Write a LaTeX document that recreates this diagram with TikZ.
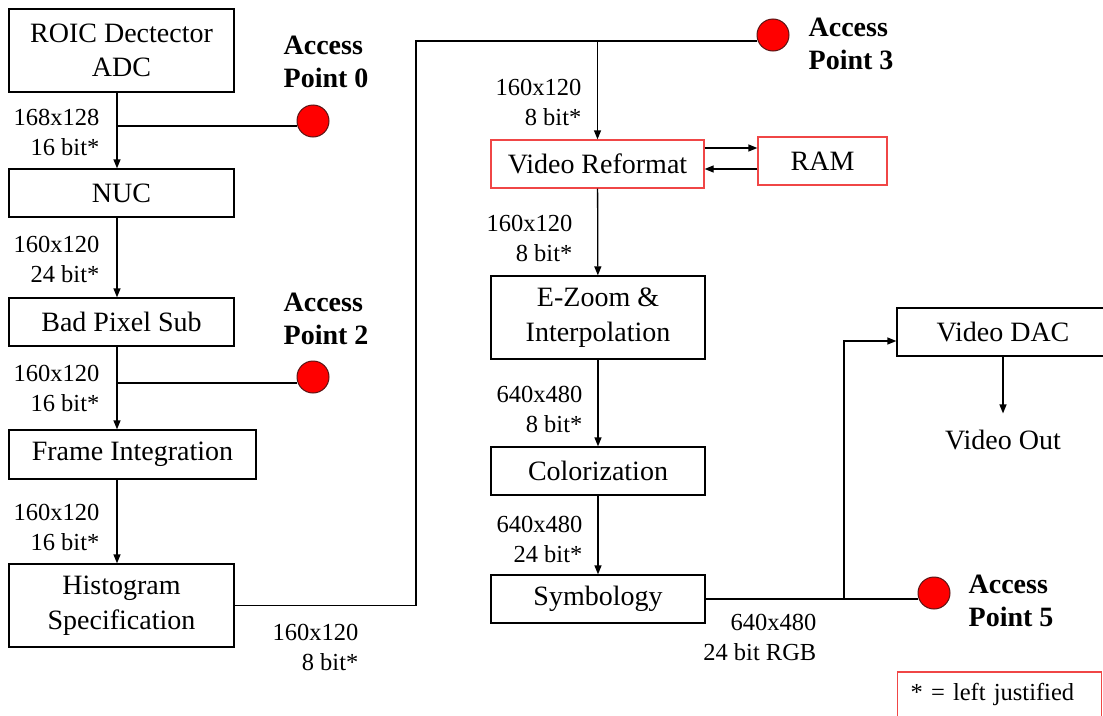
\documentclass[tikz,border=0pt]{standalone}
\usepackage{fontspec}
\setmainfont{Liberation Serif}
\usetikzlibrary{arrows.meta}

\definecolor{boxred}{RGB}{240,70,70}
\definecolor{apedge}{RGB}{90,20,20}

\newcommand{\boxfont}{\fontsize{28}{34.5}\selectfont}
\newcommand{\tagfont}{\fontsize{24.5}{30}\selectfont}
\newcommand{\apfont}{\fontsize{28}{33}\selectfont\bfseries}

\begin{document}
\begin{tikzpicture}[x=1pt, y=-1pt, line width=1.3pt,
  blk/.style={draw, inner sep=0pt, align=center, font=\boxfont},
  redblk/.style={blk, draw=boxred},
  tag/.style={anchor=east, align=right, inner sep=0pt, font=\tagfont},
  ap/.style={circle, draw=apedge, fill=red, line width=1pt, minimum size=32, inner sep=0pt},
  aptext/.style={anchor=west, align=left, inner sep=0pt, font=\apfont},
  arr/.style={-{Triangle[length=9pt, width=7pt]}}]
  \useasboundingbox (0, 0) rectangle (1103, 715);

  % Sensor side
  \node[blk, minimum width=225, minimum height=83] (roic) at (121.5, 50.5) {ROIC Dectector\\ADC};
  \node[blk, minimum width=225, minimum height=48] (nuc) at (121.5, 193) {NUC};
  \node[blk, minimum width=225, minimum height=48] (bps) at (121.5, 322) {Bad Pixel Sub};
  \node[blk, minimum width=247, minimum height=49] (fint) at (132.5, 454.5) {Frame Integration};
  \node[blk, minimum width=225, minimum height=83] (hist) at (121.5, 605.5) {Histogram\\Specification};

  \coordinate (lx) at (117, 0);
  \draw[arr] (roic.south -| lx) -- (nuc.north -| lx);
  \draw[arr] (nuc.south -| lx) -- (bps.north -| lx);
  \draw[arr] (bps.south -| lx) -- (fint.north -| lx);
  \draw[arr] (fint.south -| lx) -- (hist.north -| lx);

  \node[tag] (t1) at (100, 132) {168x128\\16 bit*};
  \node[tag] (t2) at (100, 259) {160x120\\24 bit*};
  \node[tag] (t3) at (100, 388) {160x120\\16 bit*};
  \node[tag] (t4) at (100, 527) {160x120\\16 bit*};
  \node[tag] (t5) at (359, 647) {160x120\\8 bit*};

  % Access points 0 and 2
  \node[ap] (ap0) at (313, 121) {};
  \node[ap] (ap2) at (313, 377) {};
  \node[aptext] (ap0txt) at (283, 61.5) {Access\\Point 0};
  \node[aptext] (ap2txt) at (283, 318.5) {Access\\Point 2};
  \coordinate (b0) at (117, 126);
  \coordinate (b2) at (117, 383);
  \draw (b0) -- (b0 -| ap0.west);
  \draw (b2) -- (b2 -| ap2.west);

  % Display side
  \node[redblk, minimum width=213, minimum height=48] (vref) at (597.5, 164) {Video Reformat};
  \node[redblk, minimum width=129, minimum height=48] (ram) at (822.5, 161) {RAM};
  \node[blk, minimum width=214, minimum height=83] (ezoom) at (598, 317.5) {E-Zoom \&\\Interpolation};
  \node[blk, minimum width=214, minimum height=48] (color) at (598, 471) {Colorization};
  \node[blk, minimum width=214, minimum height=48] (symb) at (598, 599) {Symbology};
  \node[blk, minimum width=212, minimum height=48] (vdac) at (1003, 332) {Video DAC};
  \node[inner sep=0pt, font=\boxfont] (vout) at (1003, 440) {Video Out};

  % Histogram output loops over to the top
  \node[ap] (ap3) at (773, 35) {};
  \node[aptext] (ap3txt) at (808, 44) {Access\\Point 3};
  \coordinate (up) at (416, 41);
  \draw (hist.east) -| (up) -- (up -| ap3.west);
  \draw[arr] (vref.north |- up) -- (vref.north);

  \draw[arr] ([yshift=16]vref.east) -- ([yshift=16]vref.east -| ram.west);
  \draw[arr] ([yshift=-5]vref.east -| ram.west) -- ([yshift=-5]vref.east);
  \draw[arr] (vref) -- (ezoom);
  \draw[arr] (ezoom) -- (color);
  \draw[arr] (color) -- (symb);

  \node[tag] (t6) at (582, 102) {160x120\\8 bit*};
  \node[tag] (t7) at (573, 238) {160x120\\8 bit*};
  \node[tag] (t8) at (583, 409) {640x480\\8 bit*};
  \node[tag] (t9) at (583, 539) {640x480\\24 bit*};
  \node[tag] (t10) at (817, 637) {640x480\\24 bit RGB};

  % Access point 5 and the DAC branch
  \node[ap] (ap5) at (934, 593) {};
  \node[aptext] (ap5txt) at (968, 601) {Access\\Point 5};
  \coordinate (b5) at (844, 599);
  \draw (symb.east) -- (symb.east -| ap5.west);
  \draw[arr] (b5) |- ([yshift=-9]vdac.west);
  \draw[arr, shorten >=16pt] (vdac) -- (vout);

  \node[redblk, anchor=west, font=\tagfont, text width=178, align=left,
        inner xsep=13, minimum height=45] (note) at (897, 694.5) {* = left justified};
\end{tikzpicture}
\end{document}
